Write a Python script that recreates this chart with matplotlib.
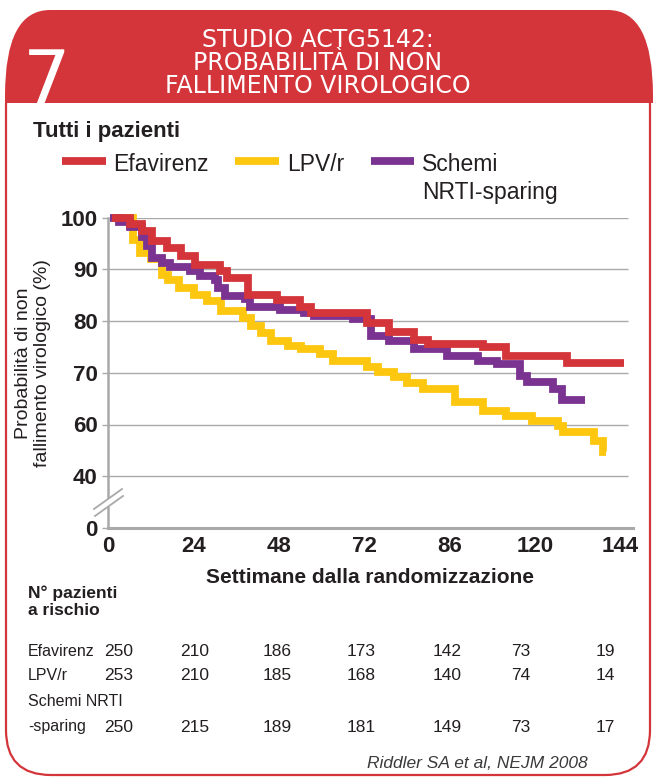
import matplotlib
matplotlib.use("Agg")
import matplotlib.pyplot as plt
from matplotlib.patches import FancyBboxPatch, Rectangle

# Kaplan-Meier style curves: (week of step, % after step)
efv_wk = [1, 6.2, 9.5, 12.3, 16.6, 20.4, 24.5, 31.5, 33.4, 39.5, 47.4, 54, 57,
          72.8, 78.9, 85.9, 90.1, 105.5, 112, 129, 145]
efv_pct = [100, 98.7, 97.4, 95.4, 94.1, 92.5, 90.8, 89.6, 88.3, 85.1, 84.1, 82.8,
           81.5, 79.7, 77.8, 76.4, 75.5, 75.0, 73.2, 71.8, 71.8]

lpv_wk = [2, 7.1, 8.9, 12.2, 15.1, 17, 19.9, 24.1, 27.9, 31.9, 38, 40.3, 43.1,
          45.9, 50.6, 54.4, 59.6, 63.3, 72.8, 76, 80.3, 84, 88.7, 97.6, 105.5,
          112, 119.1, 126.5, 127.9, 136.5, 139.3, 140]
lpv_pct = [100, 95.7, 93.1, 91.9, 88.9, 88.0, 86.4, 85.1, 83.8, 81.9, 80.6, 79.0,
           77.7, 76.1, 75.2, 74.5, 73.6, 72.2, 71.1, 70.2, 69.1, 68.1, 66.8, 64.3,
           62.7, 61.7, 60.7, 59.8, 58.5, 56.9, 54.6, 54.6]

nrti_wk = [0.5, 3, 6.2, 9.5, 11, 12.3, 15.1, 17.3, 23, 25.8, 30, 31, 32.8, 38.5,
           40, 48.4, 55, 58, 69, 73.8, 78.9, 86, 95.2, 104, 109.3, 115.9, 117.8,
           125.2, 127.6, 134.1]
nrti_pct = [100, 99.2, 98.2, 96.3, 94.4, 92.2, 91.2, 90.5, 89.6, 88.6, 88.0, 86.4,
            84.8, 84.3, 82.7, 82.2, 81.6, 81.0, 80.4, 77.1, 76.1, 74.5, 73.3, 72.3,
            71.6, 69.4, 68.2, 66.8, 64.7, 64.7]

# axis ticks (the picture has a broken axis and prints "40" and "86")
y_ticks = [40, 50, 60, 70, 80, 90, 100]
y_labels = ["0", "40", "60", "70", "80", "90", "100"]
x_ticks = [0, 24, 48, 72, 96, 120, 144]
x_labels = ["0", "24", "48", "72", "86", "120", "144"]

# patients at risk
risk_groups = ["Efavirenz", "LPV/r", "-sparing"]
risk_efv = [250, 210, 186, 173, 142, 73, 19]
risk_lpv = [253, 210, 185, 168, 140, 74, 14]
risk_nrti = [250, 215, 189, 181, 149, 73, 17]

RED = "#d4353a"
YELLOW = "#fdc60f"
PURPLE = "#7a3391"
GREY = "#a9a9ab"
INK = "#231f20"
SANS = ["Liberation Sans", "DejaVu Sans"]

W, H = 653, 779
fig = plt.figure(figsize=(W / 100, H / 100), dpi=100)

# card background in pixel coordinates
bg = fig.add_axes([0, 0, 1, 1], zorder=0)
bg.set_xlim(0, W)
bg.set_ylim(H, 0)
bg.axis("off")
body = FancyBboxPatch((6, 60), 644, 715, boxstyle="round,pad=0,rounding_size=45",
                      facecolor="white", edgecolor=RED, lw=1.6)
bg.add_patch(body)
head = FancyBboxPatch((5, 10), 648, 200, boxstyle="round,pad=0,rounding_size=45",
                      mutation_aspect=1.9, facecolor=RED, edgecolor="none")
bg.add_patch(head)
head.set_clip_path(Rectangle((0, 0), W, 103, transform=bg.transData))

# main chart
ax = fig.add_axes([108 / W, 1 - 528 / H, (633 - 108) / W, (528 - 217.5) / H],
                  zorder=1)
ax.set_facecolor("none")
ax.set_xlim(0, 147.6)
ax.set_ylim(40, 100)
ax.hlines(y_ticks[1:], 0, 146.2, color=GREY, lw=1.0, zorder=1)

lw = 5.6
style = dict(where="post", lw=lw, clip_on=False, solid_joinstyle="miter",
             solid_capstyle="butt")
ax.step(lpv_wk, lpv_pct, color=YELLOW, zorder=3, label="LPV/r", **style)
ax.step(nrti_wk, nrti_pct, color=PURPLE, zorder=4,
        label="Schemi\nNRTI-sparing", **style)
ax.step(efv_wk, efv_pct, color=RED, zorder=5, label="Efavirenz", **style)

for side in ("top", "right"):
    ax.spines[side].set_visible(False)
ax.spines["left"].set_color(GREY)
ax.spines["left"].set_linewidth(1.8)
ax.spines["bottom"].set_color(GREY)
ax.spines["bottom"].set_linewidth(2.2)

ax.set_yticks(y_ticks, y_labels)
ax.set_xticks(x_ticks, x_labels)
ax.tick_params(axis="y", length=4, width=1.0, color=GREY, pad=3.5,
               labelsize=16, labelcolor=INK)
ax.tick_params(axis="x", length=0, pad=6, labelsize=16, labelcolor=INK)
for t in ax.get_xticklabels() + ax.get_yticklabels():
    t.set_fontfamily(SANS)
    t.set_fontweight("bold")

ax.set_xlabel("Settimane dalla randomizzazione", fontsize=15, fontweight="bold",
              family=SANS, color=INK, labelpad=8)

# overlay for texts and the axis break
ov = fig.add_axes([0, 0, 1, 1], zorder=2)
ov.set_xlim(0, W)
ov.set_ylim(H, 0)
ov.axis("off")

ov.add_patch(Rectangle((104, 499), 8, 8, facecolor="white", edgecolor="none"))
ov.plot([94, 122], [509, 489], color=GREY, lw=1.3)
ov.plot([95, 123], [516, 496], color=GREY, lw=1.3)

ov.text(47, 103, "7", fontsize=54, color="white", ha="center", va="baseline",
        family="DejaVu Sans")
ov.text(318, 63, "STUDIO ACTG5142:\nPROBABILITÀ DI NON\nFALLIMENTO VIROLOGICO",
        fontsize=17, color="white", ha="center", va="center", linespacing=0.93,
        family="DejaVu Sans")

ov.text(33, 131, "Tutti i pazienti", fontsize=16, fontweight="bold",
        family=SANS, color=INK, va="center")

handles, labels = ax.get_legend_handles_labels()
order = [2, 0, 1]
leg = fig.legend([handles[i] for i in order], [labels[i] for i in order],
                 loc="upper left", bbox_to_anchor=(62 / W, 1 - 153 / H), ncol=3,
                 frameon=False, borderpad=0, borderaxespad=0, handlelength=1.9,
                 handletextpad=0.35, columnspacing=1.15, labelcolor=INK,
                 prop={"family": SANS, "size": 16.5})
leg.get_texts()[2].set_linespacing(1.3)
# keep the swatch level with the first line of the two-line label
leg._legend_handle_box.align = "top"
for col in leg._legend_handle_box.get_children():
    for item in col.get_children():
        item.align = "top"

ov.text(33, 363, "Probabilità di non\nfallimento virologico (%)", rotation=90,
        fontsize=14, family=SANS, color=INK, ha="center", va="center",
        multialignment="center", linespacing=1.1)

ov.text(28, 602, "N° pazienti\na rischio", fontsize=12.5, fontweight="bold",
        family=SANS, color=INK, ha="left", va="center", linespacing=1.2)

col_x = [119, 195, 277, 361, 447, 521, 605]
row_y = [651, 676, 727]
for label, counts, y in zip(risk_groups, [risk_efv, risk_lpv, risk_nrti], row_y):
    ov.text(28, y, label, fontsize=11.5, family=SANS, color=INK, ha="left",
            va="center")
    for x, n in zip(col_x, counts):
        ov.text(x, y, str(n), fontsize=12.5, family=SANS, color=INK,
                ha="center", va="center")
ov.text(28, 701, "Schemi NRTI", fontsize=11.5, family=SANS, color=INK,
        ha="left", va="center")

ov.text(588, 763, "Riddler SA et al, NEJM 2008", fontsize=12.5, style="italic",
        family=SANS, color="#3a3a3a", ha="right", va="center")

fig.savefig("out.png", dpi=100)
